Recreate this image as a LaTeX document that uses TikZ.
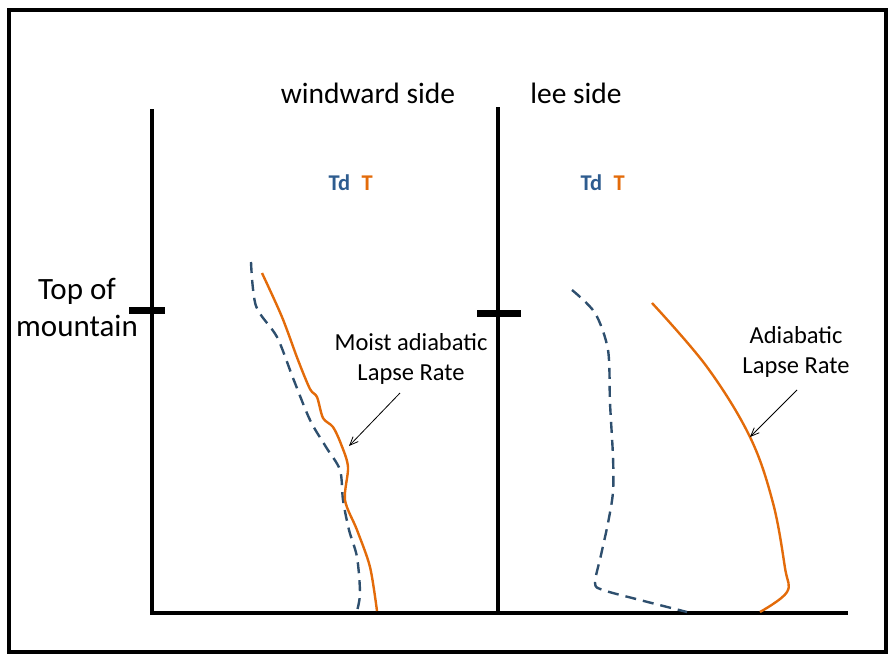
\documentclass[tikz,border=0pt]{standalone}
\usepackage{fontspec}
\setmainfont{Carlito}
\usepackage{tikz}
\usetikzlibrary{positioning, arrows.meta, calc}
\definecolor{tempcol}{rgb}{0.89,0.42,0.04}
\definecolor{dewcol}{rgb}{0.18,0.31,0.43}
\definecolor{dewtext}{rgb}{0.18,0.36,0.56}
\tikzstyle{axis}=[%
      draw=black, line width=3.5pt
]
\tikzstyle{peak}=[%
      draw=black, line width=7pt
]
\tikzstyle{tline}=[%
      draw=tempcol, line width=2.4pt, line join=round
]
\tikzstyle{tdline}=[%
      draw=dewcol, line width=2.4pt, dash pattern=on 11pt off 7pt
]
\tikzstyle{hdr}=[%
      font=\fontsize{29.5}{34}\selectfont, inner sep=0pt
]
\tikzstyle{lbl}=[%
      font=\fontsize{24.5}{30}\selectfont, align=center, inner sep=0pt
]
\tikzstyle{leg}=[%
      font=\bfseries\fontsize{22.5}{26}\selectfont, inner sep=0pt
]

\begin{document}
\begin{tikzpicture}[x=1pt, y=-1pt,
    >={Straight Barb[length=3mm,width=2.5mm]}
  ]
    \useasboundingbox (0,0) rectangle (894,659);
    \draw[line width=3.5pt] (9,10) rectangle (886,652);

    % axes
    \coordinate (o1) at (152,613);
    \coordinate (top1) at (152,109);
    \coordinate (o2) at (498,613);
    \coordinate (top2) at (498,107);
    \coordinate (end) at (848,613);
    \draw[axis] (top1) -- (o1) -- (end);
    \draw[axis] (top2) -- (o2);
    \draw[peak] (129,310) -- (165,310);
    \draw[peak] (477,313) -- (521,313);

    \node[hdr] (wind) at (368,93) {windward side};
    \node[hdr] (lee) at (576,93) {lee side};
    \node[lbl, font=\fontsize{31}{37}\selectfont] (mtn) at (77,307) {Top of\\mountain};

    \node[leg, text=dewtext] (td1) at (339.5,183) {Td};
    \node[leg, text=tempcol] (t1) [right = 11pt of td1] {T};
    \node[leg, text=dewtext] (td2) at (591.5,183) {Td};
    \node[leg, text=tempcol] (t2) [right = 11pt of td2] {T};

    % windward side
    \draw[tdline] plot[smooth, tension=0.5] coordinates {(251,262) (256,306) (277,337) (293,378) (310,420) (326,447) (340,470) (343,500) (349,530) (357,557) (360,593) (357,611)};
    \draw[tline] plot[smooth, tension=0.5] coordinates {(262,273) (282,317) (298,360) (310,389) (317,397) (323,418) (333,427) (341,444) (348,467) (345,500) (357,530) (370,567) (377,611)};

    % lee side
    \draw[tdline] plot[smooth, tension=0.5] coordinates {(572,290) (595,313) (608,350) (610,403) (613,457) (613,492) (608,523) (601,555) (595,583) (603,590) (640,600) (687,612)};
    \draw[tline] plot[smooth, tension=0.6] coordinates {(652,303) (707,367) (750,437) (773,503) (785,568) (787,592) (760,612)};

    \node[lbl] (moist) at (411,359) {Moist adiabatic\\Lapse Rate};
    \node[lbl] (dry) at (796,352) {Adiabatic\\Lapse Rate};
    \coordinate (m1) at (349,446);
    \coordinate (d1) at (750,437);
    \draw[->, line width=0.8pt] (400,393) -- (m1);
    \draw[->, line width=0.8pt] (797,390) -- (d1);
  \end{tikzpicture}
\end{document}
